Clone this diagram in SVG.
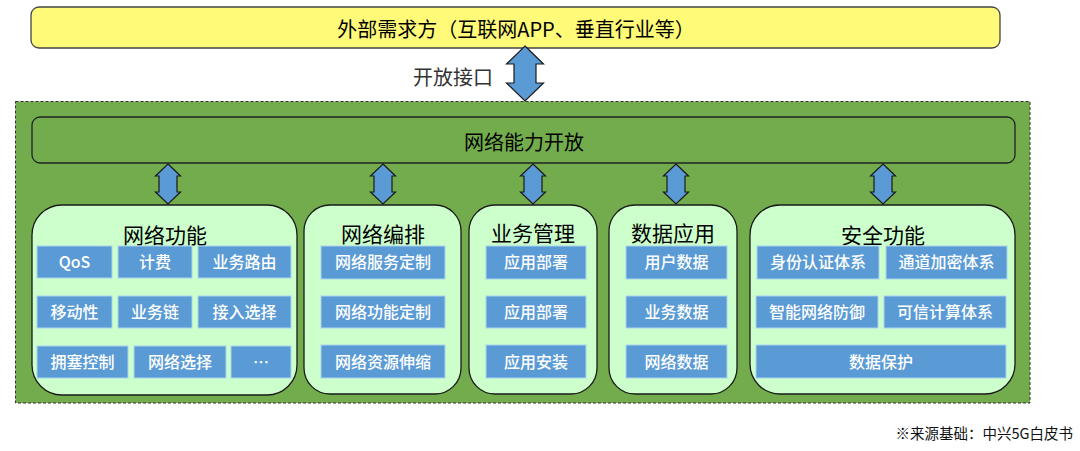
<svg xmlns="http://www.w3.org/2000/svg" width="1080" height="451" viewBox="0 0 1080 451">
<style>
text{font-family:"Noto Sans CJK SC","Noto Sans",sans-serif;}
.title{font-size:20px;fill:#000;text-anchor:middle;}
.ptitle{font-size:21px;fill:#000;text-anchor:middle;}
.cell rect{fill:#5B9BD5;stroke:#A9D3F0;stroke-width:1;}
.cell text{font-size:16px;fill:#fff;text-anchor:middle;font-weight:500;}
.panel{fill:#CCFFCC;stroke:#1a1a1a;stroke-width:1.3;}
.arrow{fill:#5B9BD5;stroke:#1a1a1a;stroke-width:1.2;stroke-linejoin:miter;}
</style>
<rect width="1080" height="451" fill="#fff"/>

<g id="external">
<rect x="31" y="7" width="969" height="41" rx="8" fill="#FFFB78" stroke="#444" stroke-width="1.3"/>
<text class="title" x="516" y="37">外部需求方（互联网APP、垂直行业等）</text>
</g>

<g id="container">
<rect x="15.5" y="101.5" width="1014.5" height="301.5" fill="#72AC4D" stroke="#333" stroke-width="1" stroke-dasharray="3,2"/>
</g>

<g id="capability">
<rect x="32" y="117" width="983" height="46" rx="8" fill="#72AC4D" stroke="#222" stroke-width="1.3"/>
<text class="title" x="524" y="150">网络能力开放</text>
</g>

<g id="connectors">
<text x="413" y="85" font-size="20" fill="#333">开放接口</text>
<path class="arrow" d="M525,46 L543.5,64 L536,64 L536,83 L543.5,83 L525,101 L506.5,83 L514,83 L514,64 L506.5,64 Z"/>
<path class="arrow" d="M168,164 L180.5,176 L177,176 L177,192 L180.5,192 L168,204 L155.5,192 L159,192 L159,176 L155.5,176 Z"/>
<path class="arrow" d="M383,164 L395.5,176 L392,176 L392,192 L395.5,192 L383,204 L370.5,192 L374,192 L374,176 L370.5,176 Z"/>
<path class="arrow" d="M533,164 L545.5,176 L542,176 L542,192 L545.5,192 L533,204 L520.5,192 L524,192 L524,176 L520.5,176 Z"/>
<path class="arrow" d="M676,164 L688.5,176 L685,176 L685,192 L688.5,192 L676,204 L663.5,192 L667,192 L667,176 L663.5,176 Z"/>
<path class="arrow" d="M883,164 L895.5,176 L892,176 L892,192 L895.5,192 L883,204 L870.5,192 L874,192 L874,176 L870.5,176 Z"/>
</g>

<g id="network-function">
<rect class="panel" x="32" y="205" width="265" height="190" rx="30"/>
<text class="ptitle" x="165" y="243">网络功能</text>
<g class="cell"><rect x="37" y="246" width="75" height="32"/><text x="74.5" y="268">QoS</text></g>
<g class="cell"><rect x="118" y="246" width="74" height="32"/><text x="155" y="268">计费</text></g>
<g class="cell"><rect x="198" y="246" width="93" height="32"/><text x="244.5" y="268">业务路由</text></g>
<g class="cell"><rect x="37" y="296" width="75" height="32"/><text x="74.5" y="318">移动性</text></g>
<g class="cell"><rect x="118" y="296" width="74" height="32"/><text x="155" y="318">业务链</text></g>
<g class="cell"><rect x="198" y="296" width="93" height="32"/><text x="244.5" y="318">接入选择</text></g>
<g class="cell"><rect x="37" y="346" width="91" height="32"/><text x="82.5" y="368">拥塞控制</text></g>
<g class="cell"><rect x="134" y="346" width="92" height="32"/><text x="180" y="368">网络选择</text></g>
<g class="cell"><rect x="231" y="346" width="60" height="32"/><text x="261" y="368">…</text></g>
</g>

<g id="orchestration">
<rect class="panel" x="304" y="205" width="157" height="189" rx="26"/>
<text class="ptitle" x="383" y="242">网络编排</text>
<g class="cell"><rect x="321" y="246" width="124" height="33"/><text x="383" y="268">网络服务定制</text></g>
<g class="cell"><rect x="321" y="296" width="124" height="32"/><text x="383" y="318">网络功能定制</text></g>
<g class="cell"><rect x="321" y="345" width="124" height="33"/><text x="383" y="368">网络资源伸缩</text></g>
</g>

<g id="service-management">
<rect class="panel" x="469" y="205" width="128" height="189" rx="26"/>
<text class="ptitle" x="533" y="241">业务管理</text>
<g class="cell"><rect x="486" y="246" width="100" height="33"/><text x="536" y="268">应用部署</text></g>
<g class="cell"><rect x="486" y="296" width="100" height="32"/><text x="536" y="318">应用部署</text></g>
<g class="cell"><rect x="486" y="345" width="100" height="33"/><text x="536" y="368">应用安装</text></g>
</g>

<g id="data-application">
<rect class="panel" x="609" y="205" width="128" height="189" rx="26"/>
<text class="ptitle" x="673" y="241">数据应用</text>
<g class="cell"><rect x="626" y="246" width="101" height="33"/><text x="676.5" y="268">用户数据</text></g>
<g class="cell"><rect x="626" y="296" width="101" height="32"/><text x="676.5" y="318">业务数据</text></g>
<g class="cell"><rect x="626" y="345" width="101" height="33"/><text x="676.5" y="368">网络数据</text></g>
</g>

<g id="security">
<rect class="panel" x="750" y="205" width="265" height="189" rx="30"/>
<text class="ptitle" x="883" y="243">安全功能</text>
<g class="cell"><rect x="757" y="246" width="122" height="33"/><text x="818" y="268">身份认证体系</text></g>
<g class="cell"><rect x="886" y="246" width="121" height="33"/><text x="946.5" y="268">通道加密体系</text></g>
<g class="cell"><rect x="756" y="296" width="122" height="32"/><text x="817" y="318">智能网络防御</text></g>
<g class="cell"><rect x="884" y="296" width="122" height="32"/><text x="945" y="318">可信计算体系</text></g>
<g class="cell"><rect x="756" y="345" width="250" height="33"/><text x="881" y="368">数据保护</text></g>
</g>

<g id="footnote">
<text x="1073" y="439" font-size="14.5" fill="#111" text-anchor="end">※来源基础：中兴5G白皮书</text>
</g>
</svg>
